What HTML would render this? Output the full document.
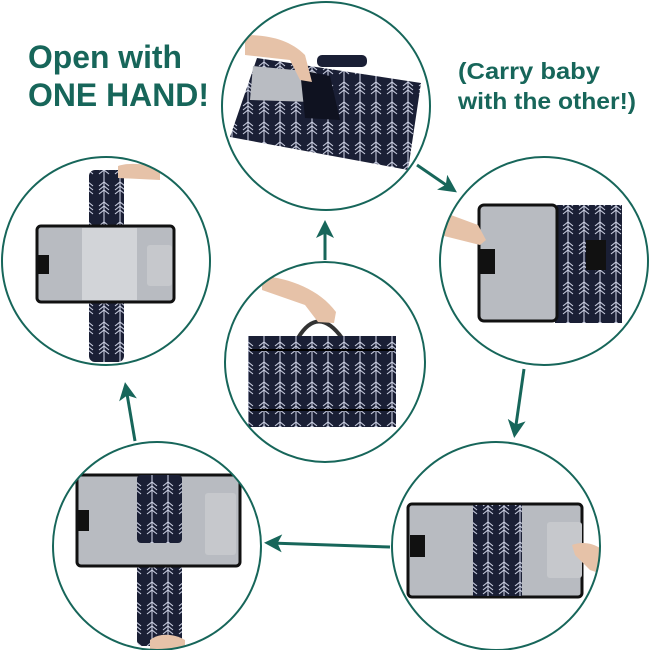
<!DOCTYPE html>
<html><head><meta charset="utf-8"><style>
html,body{margin:0;padding:0;background:#fff;width:650px;height:650px;overflow:hidden}
svg{display:block}
text{font-family:"Liberation Sans",Arial,sans-serif;font-weight:bold;fill:#17665a}
</style></head><body>
<svg width="650" height="650" viewBox="0 0 650 650" xmlns="http://www.w3.org/2000/svg">
<defs>
<pattern id="ar" width="16" height="20" patternUnits="userSpaceOnUse">
<rect width="16" height="20" fill="#1a1f35"/>
<path d="M8 0V20M3 6L8 2L13 6M3 10L8 6L13 10M3 14L8 10L13 14" stroke="#c9cde0" stroke-width="1.1" fill="none"/>
</pattern>
<clipPath id="c1"><circle cx="326" cy="106" r="104"/></clipPath>
<clipPath id="c2"><circle cx="544" cy="261" r="104"/></clipPath>
<clipPath id="c3"><circle cx="325" cy="362" r="100"/></clipPath>
<clipPath id="c4"><circle cx="106" cy="261" r="104"/></clipPath>
<clipPath id="c5"><circle cx="157" cy="546" r="104"/></clipPath>
<clipPath id="c6"><circle cx="496" cy="546" r="104"/></clipPath>
<marker id="ah" markerWidth="6" markerHeight="6" refX="4" refY="3" orient="auto" markerUnits="strokeWidth">
<path d="M0,0 L6,3 L0,6 L1.5,3 Z" fill="#17665a"/></marker>
</defs>

<text x="28" y="68" font-size="32" textLength="154" lengthAdjust="spacingAndGlyphs">Open with</text>
<text x="28" y="106" font-size="32" textLength="181" lengthAdjust="spacingAndGlyphs">ONE HAND!</text>
<text x="458" y="79" font-size="23" textLength="142" lengthAdjust="spacingAndGlyphs">(Carry baby</text>
<text x="458" y="109" font-size="23" textLength="178" lengthAdjust="spacingAndGlyphs">with the other!)</text>

<g clip-path="url(#c1)">
<rect x="317" y="55" width="50" height="12" rx="5" fill="#1a1f35"/>
<polygon points="230,137 257,58 421,83 408,170" fill="url(#ar)"/>
<polygon points="253,66 315,72 312,102 250,100" fill="#b9bcc2"/>
<polygon points="300,70 330,76 340,120 305,118" fill="#0f1220"/>
<path d="M245,35 C270,35 290,40 305,55 L312,82 L300,80 L290,60 L245,55Z" fill="#e6c2a8"/>
</g>
<g clip-path="url(#c2)">
<rect x="555" y="205" width="67" height="118" fill="url(#ar)"/>
<rect x="479" y="205" width="78" height="116" rx="5" fill="#b8bbc1" stroke="#111" stroke-width="3"/>
<rect x="479" y="249" width="16" height="25" fill="#111"/>
<rect x="586" y="240" width="20" height="30" fill="#111"/>
<path d="M440,211 L478,225 L486,240 L480,245 L440,235Z" fill="#e6c2a8"/>
</g>
<g clip-path="url(#c3)">
<path d="M298,338 Q318,305 342,338" stroke="#333" stroke-width="4" fill="none"/>
<rect x="248" y="336" width="148" height="91" fill="url(#ar)"/>
<line x1="250" y1="350" x2="394" y2="350" stroke="#000" stroke-width="2"/>
<line x1="250" y1="410" x2="394" y2="410" stroke="#000" stroke-width="2"/>
<path d="M262,276 C290,278 320,290 336,312 L334,323 L318,322 L305,305 L262,290Z" fill="#e6c2a8"/>
</g>
<g clip-path="url(#c4)">
<rect x="89" y="170" width="35" height="192" rx="6" fill="url(#ar)"/>
<rect x="37" y="226" width="137" height="76" rx="4" fill="#b8bbc1" stroke="#111" stroke-width="3"/>
<rect x="82" y="228" width="55" height="72" fill="#d2d4d8"/>
<rect x="147" y="245" width="25" height="41" rx="3" fill="#c6c8cc"/>
<rect x="38" y="255" width="11" height="19" fill="#111"/>
<path d="M118,166 C130,162 145,164 160,168 L160,180 L118,178Z" fill="#e6c2a8"/>
</g>
<g clip-path="url(#c5)">
<rect x="137" y="560" width="45" height="86" rx="5" fill="url(#ar)"/>
<rect x="77" y="475" width="163" height="91" rx="4" fill="#b8bbc1" stroke="#111" stroke-width="3"/>
<rect x="137" y="475" width="45" height="68" rx="4" fill="url(#ar)"/>
<rect x="205" y="493" width="31" height="62" rx="3" fill="#c6c8cc"/>
<rect x="76" y="510" width="13" height="21" fill="#111"/>
<path d="M150,640 C160,632 175,634 185,640 L185,650 L150,650Z" fill="#e6c2a8"/>
</g>
<g clip-path="url(#c6)">
<rect x="408" y="504" width="174" height="93" rx="4" fill="#b8bbc1" stroke="#111" stroke-width="3"/>
<rect x="473" y="505" width="49" height="91" fill="url(#ar)"/>
<rect x="547" y="522" width="35" height="56" rx="3" fill="#c6c8cc"/>
<rect x="410" y="535" width="15" height="22" fill="#111"/>
<path d="M572,545 C585,540 598,545 605,552 L605,575 L590,570 L575,555Z" fill="#e6c2a8"/>
</g>

<g fill="none" stroke="#17665a" stroke-width="2">
<circle cx="326" cy="106" r="104"/>
<circle cx="544" cy="261" r="104"/>
<circle cx="325" cy="362" r="100"/>
<circle cx="106" cy="261" r="104"/>
<circle cx="157" cy="546" r="104"/>
<circle cx="496" cy="546" r="104"/>
</g>
<g stroke="#17665a" stroke-width="3" fill="none" marker-end="url(#ah)">
<line x1="417" y1="165" x2="452" y2="189"/>
<line x1="524" y1="369" x2="515" y2="432"/>
<line x1="390" y1="547" x2="270" y2="543"/>
<line x1="135" y1="441" x2="126" y2="388"/>
<line x1="325" y1="260" x2="325" y2="226"/>
</g>
</svg>
</body></html>
